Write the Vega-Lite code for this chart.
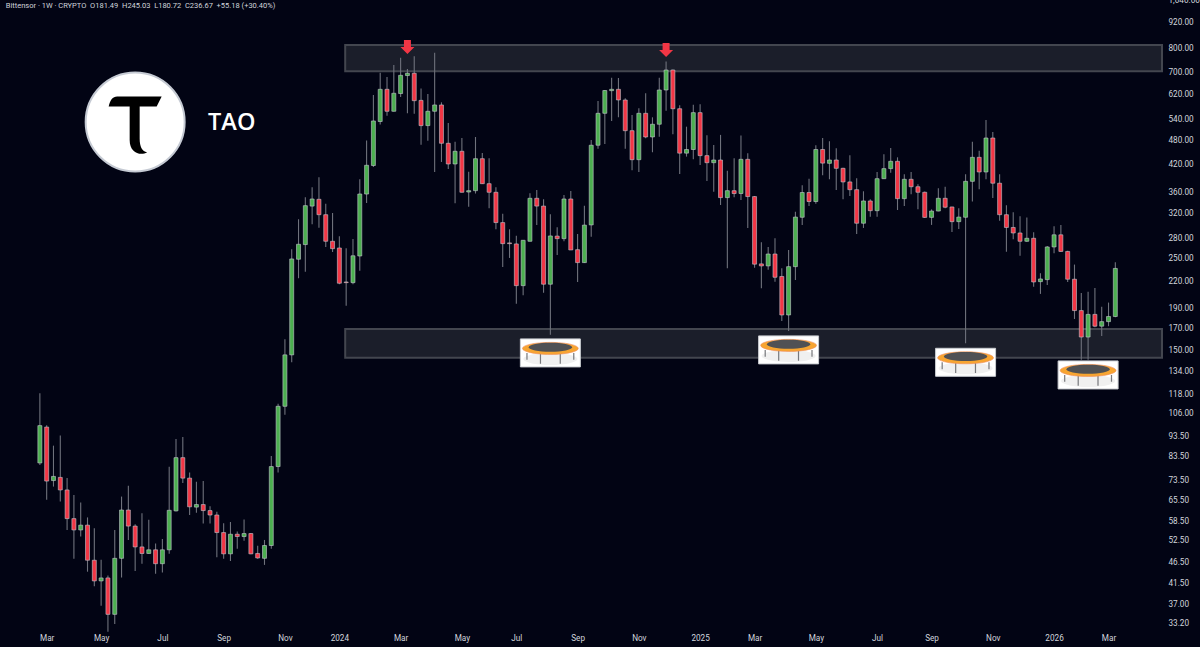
{"$schema":"https://vega.github.io/schema/vega-lite/v6.json","width":1162,"height":634,"autosize":"none","padding":{"left":0,"top":0,"right":38,"bottom":13},"background":"#020414","config":{"view":{"stroke":null},"text":{"font":"Roboto"}},
"datasets":{
"candles":[
{"date":"2023-02-27","o":80.8,"h":118.7,"l":79.9,"c":99.3},{"date":"2023-03-06","o":98.5,"h":99.5,"l":65.9,"c":73.1},{"date":"2023-03-13","o":73.3,"h":88.9,"l":70.9,"c":75.0},{"date":"2023-03-20","o":74.6,"h":94.0,"l":65.3,"c":69.6},{"date":"2023-03-27","o":69.6,"h":74.3,"l":55.8,"c":59.4},
{"date":"2023-04-03","o":59.4,"h":67.7,"l":47.6,"c":55.8},{"date":"2023-04-10","o":55.8,"h":64.9,"l":53.8,"c":57.3},{"date":"2023-04-17","o":57.3,"h":59.8,"l":44.3,"c":47.2},{"date":"2023-04-24","o":47.2,"h":56.3,"l":40.9,"c":42.1},
{"date":"2023-05-01","o":42.1,"h":47.3,"l":36.7,"c":42.8},{"date":"2023-05-08","o":42.8,"h":43.4,"l":31.8,"c":35.0},{"date":"2023-05-15","o":35.0,"h":55.8,"l":33.2,"c":47.7},{"date":"2023-05-22","o":47.7,"h":67.1,"l":42.9,"c":62.3},{"date":"2023-05-29","o":62.3,"h":71.2,"l":52.8,"c":57.0},
{"date":"2023-06-05","o":57.0,"h":57.6,"l":44.5,"c":50.8},{"date":"2023-06-12","o":50.8,"h":61.2,"l":46.3,"c":49.0},{"date":"2023-06-19","o":49.0,"h":59.0,"l":48.9,"c":50.0},{"date":"2023-06-26","o":50.0,"h":51.8,"l":43.8,"c":46.3},
{"date":"2023-07-03","o":46.3,"h":53.1,"l":44.1,"c":50.0},{"date":"2023-07-10","o":50.0,"h":79.1,"l":48.9,"c":62.2},{"date":"2023-07-17","o":62.0,"h":92.2,"l":61.8,"c":83.2},{"date":"2023-07-24","o":83.2,"h":93.3,"l":72.3,"c":74.3},{"date":"2023-07-31","o":74.3,"h":76.6,"l":60.6,"c":63.4},
{"date":"2023-08-07","o":63.3,"h":72.8,"l":61.4,"c":64.2},{"date":"2023-08-14","o":64.2,"h":73.1,"l":57.8,"c":62.1},{"date":"2023-08-21","o":62.1,"h":63.6,"l":57.8,"c":60.6},{"date":"2023-08-28","o":60.6,"h":61.7,"l":48.0,"c":55.0},
{"date":"2023-09-04","o":55.0,"h":57.9,"l":47.6,"c":48.9},{"date":"2023-09-11","o":48.9,"h":58.3,"l":47.0,"c":54.5},{"date":"2023-09-18","o":54.5,"h":55.3,"l":50.3,"c":53.8},{"date":"2023-09-25","o":53.8,"h":59.1,"l":52.6,"c":54.7},
{"date":"2023-10-02","o":54.7,"h":54.9,"l":48.8,"c":48.9},{"date":"2023-10-09","o":49.0,"h":51.1,"l":47.6,"c":47.8},{"date":"2023-10-16","o":47.7,"h":52.8,"l":46.0,"c":51.2},{"date":"2023-10-23","o":51.2,"h":84.0,"l":50.3,"c":79.2},{"date":"2023-10-30","o":79.2,"h":112.0,"l":76.6,"c":110.5},
{"date":"2023-11-06","o":110.5,"h":160,"l":105.4,"c":146.8},{"date":"2023-11-13","o":146.8,"h":263,"l":141,"c":249.4},{"date":"2023-11-20","o":249,"h":310.6,"l":224.2,"c":270.5},{"date":"2023-11-27","o":270,"h":350.7,"l":232.5,"c":334.8},
{"date":"2023-12-04","o":334,"h":370.6,"l":302.1,"c":347.4},{"date":"2023-12-11","o":346.8,"h":391.7,"l":296.4,"c":318.5},{"date":"2023-12-18","o":318.5,"h":338.5,"l":266.5,"c":275},{"date":"2023-12-25","o":275,"h":321.6,"l":259.3,"c":264},
{"date":"2024-01-01","o":265,"h":282.7,"l":216.9,"c":218.1},{"date":"2024-01-08","o":219.6,"h":264.5,"l":192.7,"c":218.8},{"date":"2024-01-15","o":218.8,"h":278.5,"l":216.9,"c":253.8},{"date":"2024-01-22","o":253.5,"h":387.4,"l":233.8,"c":357.1},{"date":"2024-01-29","o":357,"h":480,"l":339.9,"c":418.5},
{"date":"2024-02-05","o":418,"h":617,"l":414.7,"c":534.6},{"date":"2024-02-12","o":533,"h":698,"l":524,"c":636.8},{"date":"2024-02-19","o":636.8,"h":681.6,"l":550,"c":564},{"date":"2024-02-26","o":564,"h":728,"l":563,"c":623},
{"date":"2024-03-04","o":622,"h":758,"l":610,"c":688},{"date":"2024-03-11","o":687,"h":712,"l":557.7,"c":695.7},{"date":"2024-03-18","o":695.7,"h":763.9,"l":556.6,"c":598},{"date":"2024-03-25","o":599,"h":640,"l":469,"c":521},
{"date":"2024-04-01","o":521,"h":620.6,"l":479,"c":564},{"date":"2024-04-08","o":564,"h":779,"l":403.3,"c":584},{"date":"2024-04-15","o":584,"h":592.6,"l":426.2,"c":472.6},{"date":"2024-04-22","o":472.6,"h":528.6,"l":410,"c":421.5},{"date":"2024-04-29","o":421.5,"h":476.9,"l":339.2,"c":452.2},
{"date":"2024-05-06","o":452.2,"h":486.6,"l":360,"c":360.5},{"date":"2024-05-13","o":361,"h":404,"l":333,"c":363.7},{"date":"2024-05-20","o":363.7,"h":489.3,"l":358,"c":434},{"date":"2024-05-27","o":434,"h":448,"l":377.5,"c":378},
{"date":"2024-06-03","o":378,"h":435,"l":330,"c":360.5},{"date":"2024-06-10","o":360.5,"h":370.6,"l":293.8,"c":304.9},{"date":"2024-06-17","o":304.9,"h":320,"l":238.6,"c":271.4},{"date":"2024-06-24","o":272.5,"h":293.8,"l":250.8,"c":271.4},
{"date":"2024-07-01","o":271,"h":283.6,"l":194.6,"c":215.2},{"date":"2024-07-08","o":215.2,"h":277,"l":204,"c":276.5},{"date":"2024-07-15","o":275,"h":358.5,"l":274.5,"c":348.7},{"date":"2024-07-22","o":348.7,"h":365,"l":301,"c":334},{"date":"2024-07-29","o":334,"h":346.8,"l":207,"c":216.9},
{"date":"2024-08-05","o":216.9,"h":319.4,"l":164,"c":283.2},{"date":"2024-08-12","o":283,"h":297,"l":254.9,"c":279},{"date":"2024-08-19","o":279,"h":355,"l":275,"c":347.4},{"date":"2024-08-26","o":347.4,"h":363,"l":262,"c":262.1},
{"date":"2024-09-02","o":262.5,"h":286.3,"l":219.6,"c":244.4},{"date":"2024-09-09","o":244.4,"h":334.8,"l":244,"c":300.7},{"date":"2024-09-16","o":301,"h":481.3,"l":282,"c":467.5},{"date":"2024-09-23","o":467.5,"h":597,"l":458.7,"c":557.7},{"date":"2024-09-30","o":557.7,"h":634,"l":470.8,"c":632.5},
{"date":"2024-10-07","o":632,"h":679,"l":534.6,"c":636.8},{"date":"2024-10-14","o":636.8,"h":678,"l":546,"c":600.3},{"date":"2024-10-21","o":600.3,"h":606,"l":458.7,"c":506.6},{"date":"2024-10-28","o":506.6,"h":552.5,"l":407,"c":431.6},
{"date":"2024-11-04","o":431.6,"h":573.3,"l":403,"c":557.7},{"date":"2024-11-11","o":557.7,"h":622.9,"l":485.8,"c":489.3},{"date":"2024-11-18","o":489.3,"h":545.5,"l":449.7,"c":525},{"date":"2024-11-25","o":525,"h":679,"l":490,"c":634.4},
{"date":"2024-12-02","o":634.4,"h":743,"l":565.8,"c":708.5},{"date":"2024-12-09","o":708.5,"h":710,"l":497,"c":572},{"date":"2024-12-16","o":572,"h":583,"l":399,"c":447.5},{"date":"2024-12-23","o":447.5,"h":518,"l":439,"c":456.6},{"date":"2024-12-30","o":456.6,"h":585,"l":432.5,"c":559.7},
{"date":"2025-01-06","o":559.7,"h":586.4,"l":419,"c":441.4},{"date":"2025-01-13","o":441.4,"h":494,"l":383.8,"c":424.5},{"date":"2025-01-20","o":424.5,"h":468,"l":361.7,"c":430.9},{"date":"2025-01-27","o":430.9,"h":495,"l":336,"c":350},
{"date":"2025-02-03","o":350,"h":406,"l":237,"c":363.7},{"date":"2025-02-10","o":363.7,"h":435,"l":350.7,"c":358},{"date":"2025-02-17","o":358,"h":493,"l":345.5,"c":432.5},{"date":"2025-02-24","o":432.5,"h":447.5,"l":296,"c":352},
{"date":"2025-03-03","o":352,"h":353,"l":237.7,"c":242.3},{"date":"2025-03-10","o":242.7,"h":273.5,"l":212,"c":240},{"date":"2025-03-17","o":240,"h":266.5,"l":235,"c":256.3},{"date":"2025-03-24","o":256.3,"h":279.6,"l":220,"c":225.4},{"date":"2025-03-31","o":226.4,"h":237,"l":177,"c":183},
{"date":"2025-04-07","o":183,"h":262,"l":167.6,"c":239},{"date":"2025-04-14","o":239,"h":323.9,"l":222,"c":314.3},{"date":"2025-04-21","o":314,"h":375,"l":301,"c":360},{"date":"2025-04-28","o":360,"h":388.6,"l":334,"c":342.5},
{"date":"2025-05-05","o":342.5,"h":467.5,"l":338.5,"c":456.6},{"date":"2025-05-12","o":456.6,"h":486.6,"l":396,"c":423.5},{"date":"2025-05-19","o":423,"h":478,"l":387.3,"c":430.9},{"date":"2025-05-26","o":430.9,"h":460,"l":365,"c":411.5},
{"date":"2025-06-02","o":411.5,"h":413,"l":346.8,"c":381.7},{"date":"2025-06-09","o":381.7,"h":442.5,"l":353.3,"c":365.7},{"date":"2025-06-16","o":365.7,"h":389.5,"l":286.3,"c":303.8},{"date":"2025-06-23","o":303.8,"h":362.5,"l":296,"c":343.6},{"date":"2025-06-30","o":343.6,"h":346.8,"l":315,"c":325.6},
{"date":"2025-07-07","o":325.6,"h":403.3,"l":315,"c":388.6},{"date":"2025-07-14","o":388.6,"h":445,"l":388,"c":410.8},{"date":"2025-07-21","o":410.8,"h":460.5,"l":401.8,"c":427.8},{"date":"2025-07-28","o":427.8,"h":437.3,"l":326.9,"c":348},
{"date":"2025-08-04","o":348,"h":398,"l":334,"c":387.3},{"date":"2025-08-11","o":387.3,"h":403.3,"l":356.5,"c":371.7},{"date":"2025-08-18","o":371.7,"h":377,"l":328,"c":360.5},{"date":"2025-08-25","o":360.5,"h":362,"l":312.6,"c":313.8},
{"date":"2025-09-01","o":313.8,"h":328,"l":301,"c":325},{"date":"2025-09-08","o":325,"h":368.5,"l":324.5,"c":348.7},{"date":"2025-09-15","o":348.7,"h":371.7,"l":330,"c":331.9},{"date":"2025-09-22","o":332.4,"h":333,"l":289.5,"c":306.5},{"date":"2025-09-29","o":306.5,"h":330,"l":294.3,"c":314.3},
{"date":"2025-10-06","o":314,"h":398.4,"l":156.5,"c":383},{"date":"2025-10-13","o":383,"h":476.9,"l":342.5,"c":437.3},{"date":"2025-10-20","o":437.3,"h":453.7,"l":366.4,"c":403.3},{"date":"2025-10-27","o":403.3,"h":537.5,"l":387.3,"c":486.6},
{"date":"2025-11-03","o":486.6,"h":502.7,"l":349.2,"c":379},{"date":"2025-11-10","o":379,"h":398,"l":308,"c":318.5},{"date":"2025-11-17","o":318.5,"h":335.6,"l":259.6,"c":296.8},{"date":"2025-11-24","o":296.8,"h":322.8,"l":278,"c":287.9},
{"date":"2025-12-01","o":287.9,"h":315.8,"l":253.8,"c":275},{"date":"2025-12-08","o":275,"h":313.8,"l":274,"c":279.6},{"date":"2025-12-15","o":279.6,"h":289,"l":214,"c":219.6},{"date":"2025-12-22","o":220,"h":230.5,"l":205.6,"c":223.3},{"date":"2025-12-29","o":222.5,"h":268,"l":216,"c":266.5},
{"date":"2026-01-05","o":266.5,"h":299,"l":257.4,"c":285},{"date":"2026-01-12","o":285,"h":301,"l":259,"c":260},{"date":"2026-01-19","o":260,"h":261,"l":219.6,"c":223},{"date":"2026-01-26","o":223,"h":241.8,"l":179,"c":187.5},
{"date":"2026-02-02","o":187.5,"h":206.5,"l":142.8,"c":162},{"date":"2026-02-09","o":162,"h":208,"l":142.8,"c":183.6},{"date":"2026-02-16","o":183.6,"h":212.5,"l":171,"c":172},{"date":"2026-02-23","o":172,"h":191.5,"l":163,"c":176.4},
{"date":"2026-03-02","o":176.4,"h":196,"l":172,"c":181.49},{"date":"2026-03-09","o":181.49,"h":245.03,"l":180.72,"c":236.67}
],
"zones":[{"start":"2024-01-07","end":"2026-04-26","low":704,"high":813},{"start":"2024-01-07","end":"2026-04-26","low":144.4,"high":169.4}],
"arrows":[{"date":"2024-03-11","price":805},{"date":"2024-12-02","price":791}],
"tramps":[{"date":"2024-08-05","price":148.4},{"date":"2025-04-07","price":150.9},{"date":"2025-10-06","price":140.9},{"date":"2026-02-09","price":131.4}],
"logo":[{"date":"2023-06-05","price":531.6}],
"notes":[{"date":"2023-01-23","price":1009,"label":"Bittensor · 1W · CRYPTO\u00a0\u00a0O181.49\u00a0\u00a0H245.03\u00a0\u00a0L180.72\u00a0\u00a0C236.67\u00a0\u00a0+55.18 (+30.40%)"}],
"names":[{"date":"2023-08-19","price":528,"label":"TAO"}]
},
"encoding":{
"x":{"field":"date","type":"temporal","scale":{"domain":["2023-01-17","2026-04-26"],"nice":false,"padding":0},"axis":{"title":null,"domain":false,"ticks":false,"grid":false,"labelPadding":0,"labelFont":"Roboto","labelFontSize":8.2,"labelColor":"#d1d4dc","labelFlush":false,"labelOverlap":false,"values":["2023-03-06","2023-05-01","2023-07-03","2023-09-04","2023-11-06","2024-01-01","2024-03-04","2024-05-06","2024-07-01","2024-09-02","2024-11-04","2025-01-06","2025-03-03","2025-05-05","2025-07-07","2025-09-01","2025-11-03","2026-01-05","2026-03-02"],"labelExpr":"month(time(datum.value)+3*864e5)==0 ? timeFormat(time(datum.value)+3*864e5,'%Y') : timeFormat(time(datum.value)+3*864e5,'%b')"}}
},
"layer":[
{"data":{"name":"zones"},"mark":{"type":"rect","fill":"#1b1e2a","stroke":"#43464f","strokeWidth":2},"encoding":{"x":{"field":"start","type":"temporal","scale":{"domain":["2023-01-17","2026-04-26"],"nice":false,"padding":0}},"x2":{"field":"end"},"y":{"field":"low","type":"quantitative","title":null,"scale":{"type":"log","domain":[31.4,1043],"nice":false},"axis":{"orient":"right","title":null,"domain":false,"ticks":false,"grid":false,"labelPadding":6,"labelFont":"Roboto","labelFontSize":8.2,"labelColor":"#d1d4dc","labelOverlap":false,"format":",.2f","values":[1040,920,800,700,620,540,480,420,360,320,280,250,220,190,170,150,134,118,106,93.5,83.5,73.5,65.5,58.5,52.5,46.5,41.5,37,33.2]}},"y2":{"field":"high"}}},
{"data":{"name":"candles"},"mark":{"type":"rule","color":"#6f727c","strokeWidth":1.1},"encoding":{"y":{"field":"l","type":"quantitative"},"y2":{"field":"h"}}},
{"data":{"name":"candles"},"mark":{"type":"bar","width":4,"stroke":"#c4c8cf","strokeWidth":0.6},"encoding":{"y":{"field":"o","type":"quantitative"},"y2":{"field":"c"},"color":{"condition":{"test":"datum.c >= datum.o","value":"#4caf50"},"value":"#f23645"}}},
{"data":{"name":"arrows"},"mark":{"type":"point","filled":true,"opacity":1,"fill":"#f23645","stroke":null,"size":196,"shape":"M-0.5,-1H0.5V0H1L0,1L-1,0H-0.5Z"},"encoding":{"y":{"field":"price","type":"quantitative"}}},
{"data":{"name":"tramps"},"mark":{"type":"point","filled":true,"opacity":1,"fill":"#ffffff","stroke":"#c9ccd1","strokeWidth":1,"size":3600,"shape":"M-1,-0.467H1V0.467H-1Z"},"encoding":{"y":{"field":"price","type":"quantitative"}}},
{"data":{"name":"tramps"},"mark":{"type":"point","filled":true,"opacity":1,"fill":"#f0f0f0","stroke":null,"size":3600,"shape":"M-0.9,0.2A0.9,0.2 0 1,1 0.9,0.2A0.9,0.2 0 1,1 -0.9,0.2Z"},"encoding":{"y":{"field":"price","type":"quantitative"}}},
{"data":{"name":"tramps"},"mark":{"type":"point","filled":true,"opacity":1,"fill":"#77787c","stroke":null,"size":3600,"shape":"M-0.8,0H-0.76V0.23H-0.8ZM0.76,0H0.8V0.23H0.76ZM-0.35,0H-0.31V0.36H-0.35ZM0.31,0H0.35V0.36H0.31Z"},"encoding":{"y":{"field":"price","type":"quantitative"}}},
{"data":{"name":"tramps"},"mark":{"type":"point","filled":true,"opacity":1,"fill":"#f7a531","stroke":"#f08a5a","strokeWidth":0.6,"size":3600,"shape":"M-0.93,-0.15A0.93,0.2 0 1,1 0.93,-0.15A0.93,0.2 0 1,1 -0.93,-0.15Z"},"encoding":{"y":{"field":"price","type":"quantitative"}}},
{"data":{"name":"tramps"},"mark":{"type":"point","filled":true,"opacity":1,"fill":"#505154","stroke":null,"size":3600,"shape":"M-0.72,-0.19A0.72,0.15 0 1,1 0.72,-0.19A0.72,0.15 0 1,1 -0.72,-0.19Z"},"encoding":{"y":{"field":"price","type":"quantitative"}}},
{"data":{"name":"logo"},"mark":{"type":"point","shape":"circle","filled":true,"opacity":1,"fill":"#ffffff","stroke":"#c5cad3","strokeWidth":2,"size":9800},"encoding":{"y":{"field":"price","type":"quantitative"}}},
{"data":{"name":"logo"},"mark":{"type":"point","filled":true,"opacity":1,"fill":"#000000","stroke":null,"size":10000,"shape":"M-0.53,-0.31C-0.5,-0.44 -0.45,-0.51 -0.36,-0.51L0.53,-0.51L0.43,-0.31L0.09,-0.31L0.09,0.33C0.09,0.5 0.14,0.58 0.24,0.61C0.1,0.68 -0.11,0.62 -0.11,0.36L-0.11,-0.31Z"},"encoding":{"y":{"field":"price","type":"quantitative"}}},
{"data":{"name":"notes"},"mark":{"type":"text","align":"left","baseline":"middle","color":"#d1d4dc","fontSize":7.5,"font":"Roboto"},"encoding":{"y":{"field":"price","type":"quantitative"},"text":{"field":"label"}}},
{"data":{"name":"names"},"mark":{"type":"text","align":"left","baseline":"middle","color":"#ffffff","fontSize":23.5,"fontWeight":600,"font":"Open Sans"},"encoding":{"y":{"field":"price","type":"quantitative"},"text":{"field":"label"}}}
]}
